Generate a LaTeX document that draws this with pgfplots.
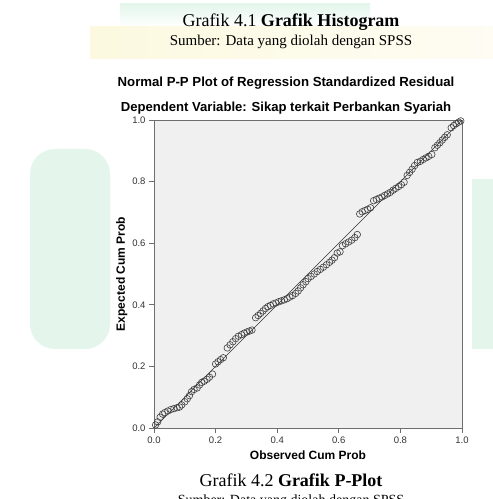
\documentclass[border=0pt]{standalone}
\usepackage{pgfplots}
\pgfplotsset{compat=1.18}
\usepackage{fontspec}
\setmainfont{Liberation Serif}
\setsansfont{Liberation Sans}
\definecolor{plotbg}{HTML}{F0F0F0}
\definecolor{framec}{HTML}{6E6E6E}
\definecolor{wmgreen}{HTML}{E4F6EC}
\definecolor{wmyellow}{HTML}{FCF9E0}
\begin{document}
\begin{tikzpicture}[x=1pt,y=1pt]
\useasboundingbox (0,0) rectangle (493,499);
\fill[white] (0,0) rectangle (493,499);
% faint watermark
\shade[top color=wmgreen, bottom color=white] (120,472) rectangle (370,495);
\shade[left color=wmyellow, right color=wmyellow!40] (90,440) rectangle (493,472);
\fill[wmgreen,rounded corners=25] (30,150) rectangle (110,350);
\fill[wmgreen] (472,150) rectangle (493,320);
\node[font=\fontsize{18}{20}\selectfont] at (291,477) {Grafik 4.1 \textbf{Grafik Histogram}};
\node[font=\fontsize{15}{17}\selectfont] at (291,457) {Sumber: Data yang diolah dengan SPSS};
\node[font=\sffamily\bfseries\fontsize{13.2}{15}\selectfont] at (286,416) {Normal P-P Plot of Regression Standardized Residual};
\node[font=\sffamily\bfseries\fontsize{13.1}{15}\selectfont] at (286,391) {Dependent Variable: Sikap terkait Perbankan Syariah};
\begin{axis}[
  at={(154pt,71pt)}, anchor=south west,
  scale only axis, width=308pt, height=308pt,
  xmin=0, xmax=1, ymin=0, ymax=1,
  xtick={0,0.2,0.4,0.6,0.8,1.0}, ytick={0,0.2,0.4,0.6,0.8,1.0},
  xticklabels={0.0,0.2,0.4,0.6,0.8,1.0},
  yticklabels={0.0,0.2,0.4,0.6,0.8,1.0},
  tick align=outside, tick pos=left,
  major tick length=5pt,
  axis background/.style={fill=plotbg},
  axis line style={framec, line width=0.9pt},
  every tick/.style={framec, line width=0.8pt},
  tick label style={font=\sffamily\fontsize{9.5}{11}\selectfont, text=black!80},
  /pgf/number format/assume math mode=true,
  xlabel={Observed Cum Prob}, ylabel={Expected Cum Prob},
  label style={font=\sffamily\bfseries\fontsize{12}{14}\selectfont},
  xlabel style={yshift=-1pt},
  ylabel style={yshift=-2pt},
  clip=false,
]
\addplot[black!80, line width=0.7pt] coordinates {(0,0) (1,1)};
\addplot[only marks, mark=o, mark size=3.3pt, mark options={black!75, line width=0.6pt}] coordinates {
(0.005,0.01)(0.012,0.02)(0.02,0.035)(0.028,0.045)
(0.035,0.05)(0.045,0.055)(0.055,0.06)(0.065,0.063)(0.075,0.066)(0.083,0.068)
(0.09,0.075)(0.1,0.085)(0.108,0.095)(0.115,0.105)
(0.122,0.118)(0.13,0.125)(0.14,0.13)(0.148,0.14)
(0.155,0.148)(0.163,0.152)(0.172,0.158)(0.18,0.165)(0.19,0.175)
(0.2,0.208)(0.208,0.215)(0.216,0.222)(0.225,0.228)
(0.238,0.26)(0.247,0.27)(0.256,0.28)(0.265,0.29)(0.274,0.298)
(0.284,0.303)(0.293,0.308)(0.302,0.312)(0.31,0.315)(0.318,0.318)
(0.33,0.358)(0.338,0.365)(0.346,0.372)(0.354,0.38)(0.362,0.388)(0.37,0.394)(0.378,0.398)(0.387,0.403)(0.396,0.406)
(0.405,0.41)(0.414,0.413)(0.423,0.416)(0.432,0.42)(0.441,0.425)(0.45,0.43)
(0.46,0.437)(0.468,0.445)(0.476,0.455)(0.484,0.465)(0.493,0.475)(0.5,0.485)
(0.51,0.492)(0.52,0.5)(0.53,0.508)(0.54,0.515)(0.55,0.522)(0.56,0.53)(0.57,0.538)(0.578,0.545)(0.586,0.553)
(0.595,0.568)(0.604,0.572)
(0.612,0.592)(0.622,0.598)(0.632,0.604)(0.642,0.61)(0.652,0.618)(0.66,0.628)
(0.668,0.695)(0.676,0.702)(0.685,0.706)(0.694,0.71)(0.703,0.715)
(0.713,0.738)(0.722,0.742)(0.731,0.746)(0.74,0.75)(0.749,0.755)(0.758,0.76)(0.767,0.765)
(0.776,0.772)(0.785,0.778)(0.794,0.784)(0.803,0.79)(0.812,0.798)
(0.822,0.82)(0.83,0.83)(0.838,0.84)(0.846,0.852)(0.855,0.862)
(0.865,0.866)(0.874,0.872)(0.883,0.877)(0.892,0.882)(0.902,0.888)
(0.912,0.91)(0.92,0.918)(0.928,0.926)(0.936,0.935)(0.944,0.944)(0.952,0.952)
(0.965,0.975)(0.973,0.982)(0.981,0.988)(0.989,0.993)(0.996,0.997)
};
\end{axis}
\node[font=\fontsize{18}{20}\selectfont] at (291,19) {Grafik 4.2 \textbf{Grafik P-Plot}};
\node[font=\fontsize{14}{16}\selectfont,anchor=north] at (291,8) {Sumber: Data yang diolah dengan SPSS};
\end{tikzpicture}
\end{document}
